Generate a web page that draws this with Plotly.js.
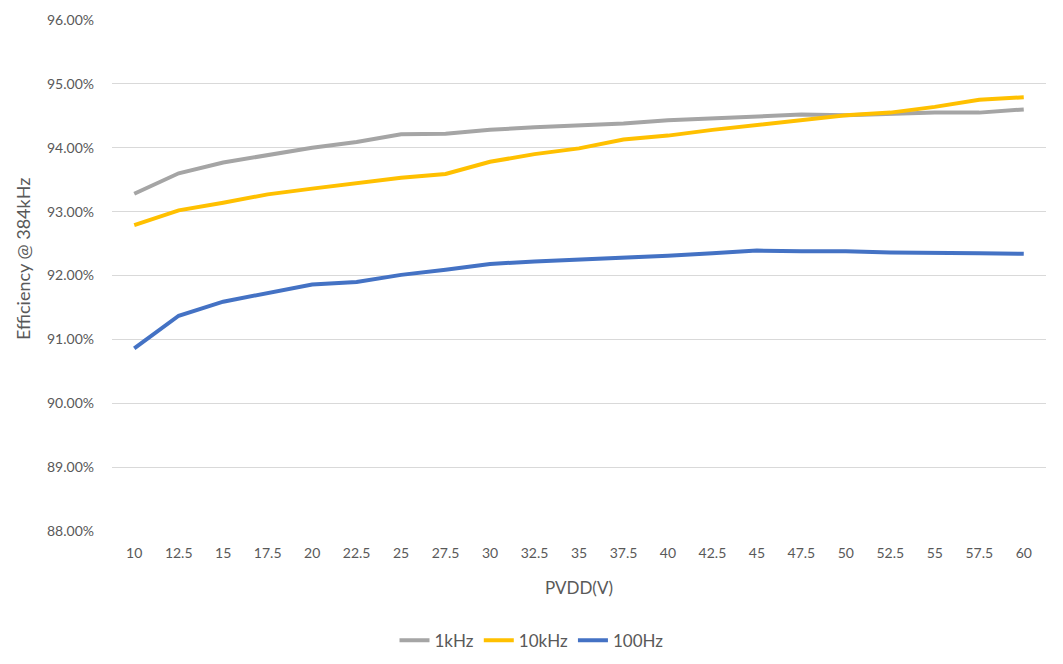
<!DOCTYPE html>
<html>
<head>
<meta charset="utf-8">
<script src="https://cdn.plot.ly/plotly-3.0.1.min.js"></script>
<style>
  html, body { margin: 0; padding: 0; background: #FFFFFF; }
  #chart { width: 1063px; height: 664px; }
</style>
</head>
<body>
<div id="chart"></div>
<script>
// PVDD supply voltage steps (category axis)
const pvdd = ['10', '12.5', '15', '17.5', '20', '22.5', '25', '27.5', '30', '32.5', '35',
              '37.5', '40', '42.5', '45', '47.5', '50', '52.5', '55', '57.5', '60'];

// Efficiency in % at 384kHz switching
const eff1k = [93.28, 93.60, 93.77, 93.89, 94.00, 94.09, 94.21, 94.22, 94.28, 94.32, 94.35,
               94.38, 94.43, 94.46, 94.49, 94.52, 94.51, 94.53, 94.55, 94.55, 94.60];
const eff10k = [92.79, 93.02, 93.14, 93.27, 93.36, 93.45, 93.53, 93.59, 93.78, 93.90, 93.99,
                94.13, 94.19, 94.28, 94.36, 94.44, 94.51, 94.55, 94.64, 94.75, 94.79];
const eff100 = [90.86, 91.37, 91.59, 91.72, 91.86, 91.90, 92.01, 92.09, 92.18, 92.22, 92.25,
                92.27, 92.31, 92.35, 92.39, 92.38, 92.38, 92.36, 92.36, 92.35, 92.34];

const seriesNames = ['1kHz', '10kHz', '100Hz'];
const seriesColors = ['#A5A5A5', '#FFC000', '#4472C4'];
const yTicks = [88, 89, 90, 91, 92, 93, 94, 95, 96];

const textColor = '#595959';
const fontFamily = 'Lato, "Open Sans", sans-serif';

const traces = [eff1k, eff10k, eff100].map((vals, i) => ({
  x: pvdd,
  y: vals,
  type: 'scatter',
  mode: 'lines',
  name: seriesNames[i],
  line: { color: seriesColors[i], width: 4 }
}));

const layout = {
  width: 1063,
  height: 664,
  paper_bgcolor: '#FFFFFF',
  plot_bgcolor: '#FFFFFF',
  font: { family: fontFamily, size: 14, color: textColor },
  margin: { t: 20, r: 17, b: 133, l: 112 },
  showlegend: true,
  xaxis: {
    type: 'category',
    range: [-0.5, pvdd.length - 0.5],
    showgrid: false,
    showline: false,
    zeroline: false,
    ticks: '',
    ticklabelstandoff: 12,
    tickfont: { size: 14, color: textColor },
    title: { text: 'PVDD(V)', font: { size: 17, color: textColor }, standoff: 22 }
  },
  yaxis: {
    range: [88, 96],
    tickvals: yTicks,
    ticktext: yTicks.map(v => v.toFixed(2) + '%'),
    showgrid: true,
    gridcolor: '#D9D9D9',
    gridwidth: 1,
    zeroline: false,
    showline: false,
    ticks: '',
    ticklabelstandoff: 17,
    tickfont: { size: 14, color: textColor }
  },
  // axis title placed by hand: in the source it sits a bit above the plot centre
  annotations: [{
    text: 'Efficiency @ 384kHz',
    xref: 'paper', yref: 'paper',
    x: -0.096, y: 0.533,
    xanchor: 'center', yanchor: 'middle',
    textangle: -90,
    showarrow: false,
    font: { size: 18, color: textColor }
  }],
  legend: {
    orientation: 'h',
    xref: 'container',
    yref: 'container',
    x: 0.5,
    xanchor: 'center',
    y: 0.035,
    yanchor: 'middle',
    font: { size: 17, color: textColor },
    bgcolor: 'rgba(0,0,0,0)',
    itemwidth: 30
  }
};

const config = { displayModeBar: false, responsive: false };

Plotly.newPlot('chart', traces, layout, config);
</script>
</body>
</html>
